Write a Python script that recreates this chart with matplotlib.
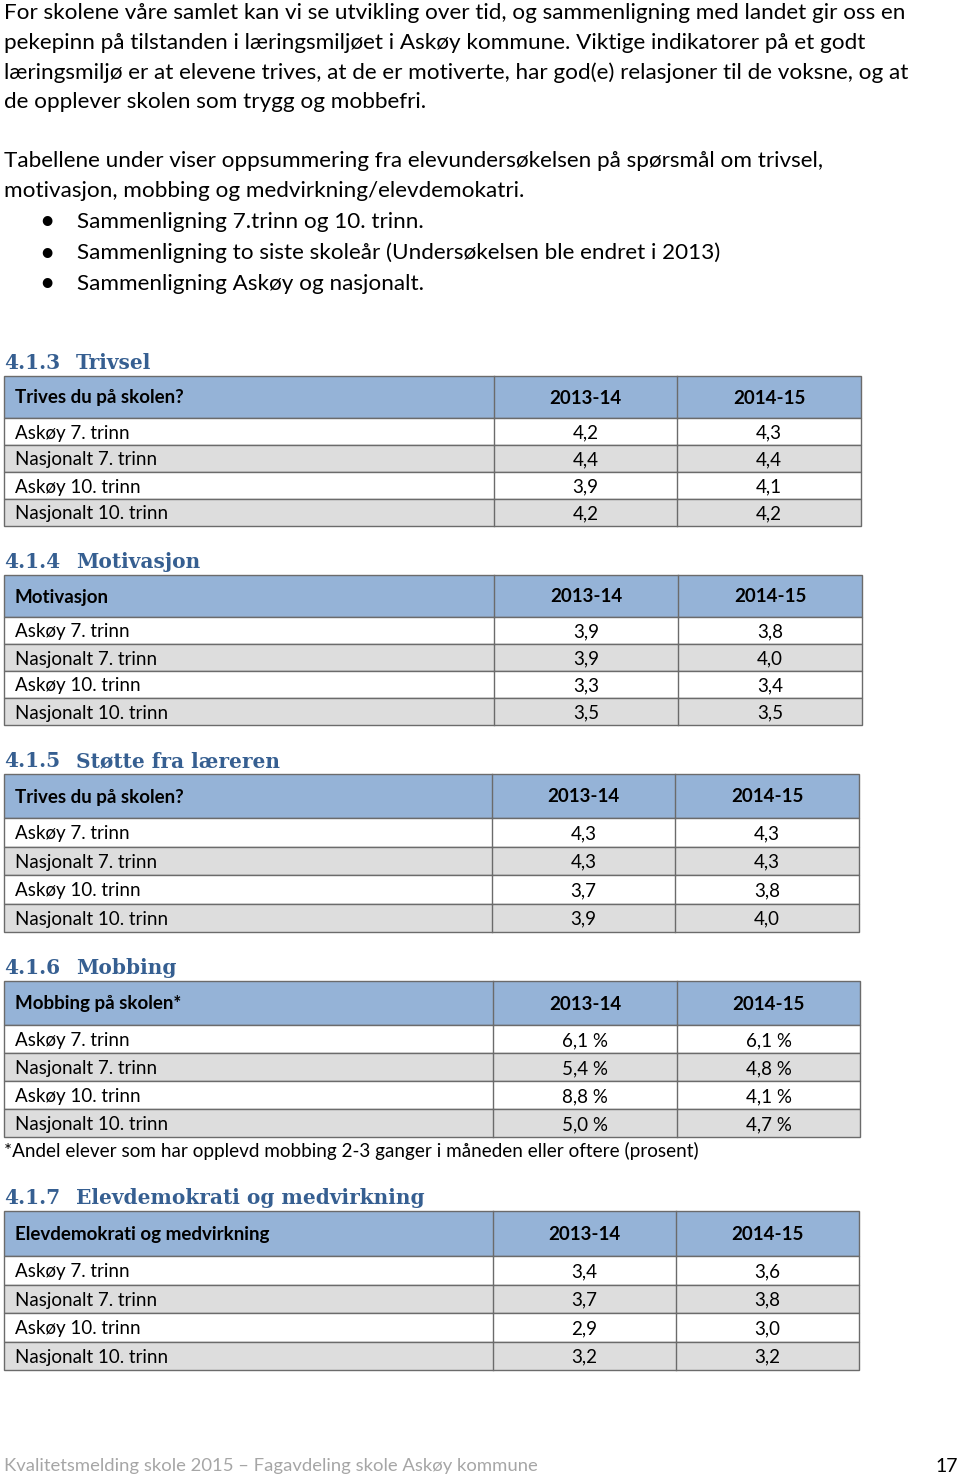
import matplotlib.pyplot as plt
from matplotlib.patches import Rectangle

# Data
row_labels = ['Askøy 7. trinn', 'Nasjonalt 7. trinn', 'Askøy 10. trinn', 'Nasjonalt 10. trinn']
years = ['2013-14', '2014-15']

trivsel_1314 = [4.2, 4.4, 3.9, 4.2]
trivsel_1415 = [4.3, 4.4, 4.1, 4.2]
motivasjon_1314 = [3.9, 3.9, 3.3, 3.5]
motivasjon_1415 = [3.8, 4.0, 3.4, 3.5]
stotte_1314 = [4.3, 4.3, 3.7, 3.9]
stotte_1415 = [4.3, 4.3, 3.8, 4.0]
mobbing_1314 = [6.1, 5.4, 8.8, 5.0]
mobbing_1415 = [6.1, 4.8, 4.1, 4.7]
demokrati_1314 = [3.4, 3.7, 2.9, 3.2]
demokrati_1415 = [3.6, 3.8, 3.0, 3.2]

intro = ['For skolene våre samlet kan vi se utvikling over tid, og sammenligning med landet gir oss en',
	'pekepinn på tilstanden i læringsmiljøet i Askøy kommune. Viktige indikatorer på et godt',
	'læringsmiljø er at elevene trives, at de er motiverte, har god(e) relasjoner til de voksne, og at',
	'de opplever skolen som trygg og mobbefri.']
intro2 = ['Tabellene under viser oppsummering fra elevundersøkelsen på spørsmål om trivsel,',
	'motivasjon, mobbing og medvirkning/elevdemokatri.']
bullets = ['Sammenligning 7.trinn og 10. trinn.',
	'Sammenligning to siste skoleår (Undersøkelsen ble endret i 2013)',
	'Sammenligning Askøy og nasjonalt.']

BODY = 'Lato'
HEAD = 'DejaVu Serif'
HEAD_COLOR = '#365F91'
HEADER_FILL = '#95B3D7'
GRAY_FILL = '#DDDDDD'
LINE = '#6b6b6b'
FS_BODY = 16.2
FS_TAB = 13.5


def fmt(v, pct=False):
	s = f'{v:.1f}'.replace('.', ',')
	return s + ' %' if pct else s


def table(ax, title_num, title, head, v1, v2, top, head_h, row_h, cols, pct=False):
	ax.text(4, top - 13, title_num, family=HEAD, weight='bold', color=HEAD_COLOR, fontsize=14.5, va='center')
	ax.text(76, top - 13, title, family=HEAD, weight='bold', color=HEAD_COLOR, fontsize=14.5, va='center')
	x0, x1, x2, x3 = cols
	# header row
	ax.add_patch(Rectangle((x0, top), x3 - x0, head_h, facecolor=HEADER_FILL, edgecolor=LINE, lw=1))
	ax.plot([x1, x1], [top, top + head_h], color=LINE, lw=1)
	ax.plot([x2, x2], [top, top + head_h], color=LINE, lw=1)
	yc = top + head_h / 2 + 1
	ax.text(x0 + 11, yc, head, family=BODY, weight='bold', fontsize=FS_TAB, va='center')
	ax.text((x1 + x2) / 2, yc, years[0], family=BODY, weight='bold', fontsize=FS_TAB, va='center', ha='center')
	ax.text((x2 + x3) / 2, yc, years[1], family=BODY, weight='bold', fontsize=FS_TAB, va='center', ha='center')
	# body rows
	for i, lab in enumerate(row_labels):
		y = top + head_h + i * row_h
		fill = 'white' if i % 2 == 0 else GRAY_FILL
		ax.add_patch(Rectangle((x0, y), x3 - x0, row_h, facecolor=fill, edgecolor=LINE, lw=1))
		ax.plot([x1, x1], [y, y + row_h], color=LINE, lw=1)
		ax.plot([x2, x2], [y, y + row_h], color=LINE, lw=1)
		yc = y + row_h / 2 + 1.5
		ax.text(x0 + 11, yc, lab, family=BODY, fontsize=FS_TAB, va='center')
		ax.text((x1 + x2) / 2, yc, fmt(v1[i], pct), family=BODY, fontsize=FS_TAB, va='center', ha='center')
		ax.text((x2 + x3) / 2, yc, fmt(v2[i], pct), family=BODY, fontsize=FS_TAB, va='center', ha='center')


fig = plt.figure(figsize=(9.6, 14.78), dpi=100)
ax = fig.add_axes([0, 0, 1, 1])
ax.set_xlim(0, 960)
ax.set_ylim(1478, 0)
ax.axis('off')

# Intro text
for i, line in enumerate(intro):
	ax.text(4, 13 + i * 29.7, line, family=BODY, fontsize=FS_BODY, va='center')
for i, line in enumerate(intro2):
	ax.text(4, 161 + i * 30, line, family=BODY, fontsize=FS_BODY, va='center')
for i, line in enumerate(bullets):
	y = 222 + i * 31
	ax.text(47, y, '•', family=BODY, fontsize=19, va='center', ha='center')
	ax.text(77, y, line, family=BODY, fontsize=FS_BODY, va='center')

table(ax, '4.1.3', 'Trivsel', 'Trives du på skolen?', trivsel_1314, trivsel_1415, 376, 42, 27, (4, 494, 677, 861))
table(ax, '4.1.4', 'Motivasjon', 'Motivasjon', motivasjon_1314, motivasjon_1415, 575, 42, 27, (4, 494, 678, 862))
table(ax, '4.1.5', 'Støtte fra læreren', 'Trives du på skolen?', stotte_1314, stotte_1415, 774, 44, 28.5, (4, 492, 675, 859))
table(ax, '4.1.6', 'Mobbing', 'Mobbing på skolen*', mobbing_1314, mobbing_1415, 981, 44, 28, (4, 493, 677, 860), pct=True)
ax.text(4, 1151, '*Andel elever som har opplevd mobbing 2-3 ganger i måneden eller oftere (prosent)', family=BODY, fontsize=13.6, va='center')
table(ax, '4.1.7', 'Elevdemokrati og medvirkning', 'Elevdemokrati og medvirkning', demokrati_1314, demokrati_1415, 1211, 45, 28.5, (4, 493, 676, 859))

# Footer
ax.text(4, 1466, 'Kvalitetsmelding skole 2015 – Fagavdeling skole Askøy kommune', family=BODY, fontsize=13.3, color='#a6a6a6', va='center')
ax.text(958, 1466, '17', family=BODY, fontsize=14, color='black', va='center', ha='right')

plt.savefig('out.png', dpi=100)
